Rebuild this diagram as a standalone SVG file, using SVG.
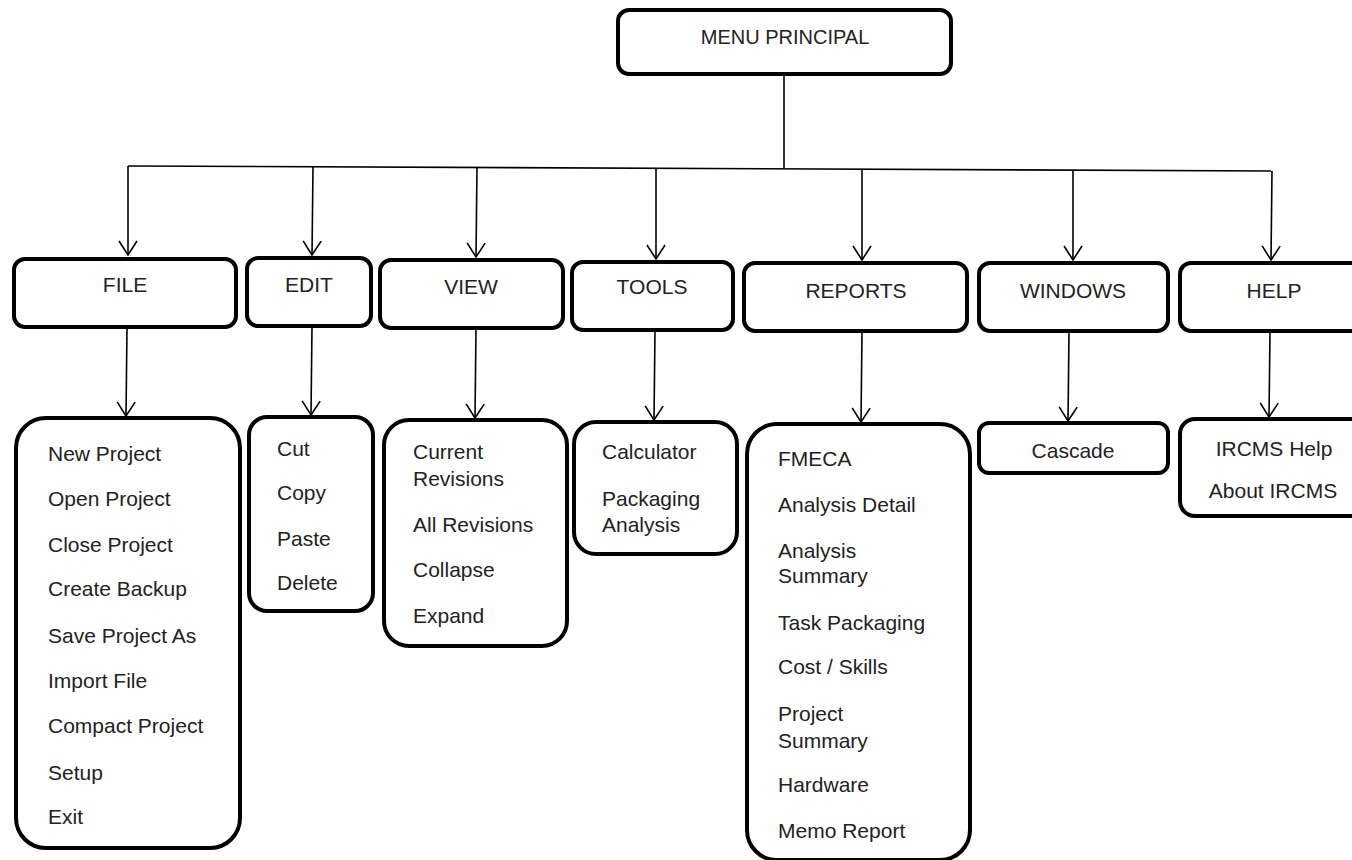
<svg xmlns="http://www.w3.org/2000/svg" width="1352" height="860" viewBox="0 0 1352 860">
<style>
.box{fill:#fff;stroke:#000;stroke-width:4}
.t{font-family:"Liberation Sans",Arial,sans-serif;font-size:21px;fill:#222}
.c{text-anchor:middle}
.h{font-size:20px}
.ln{stroke:#000;stroke-width:1.6;fill:none}
</style>
<defs>
<marker id="ah" markerUnits="userSpaceOnUse" viewBox="0 0 16 20" refX="15" refY="10" markerWidth="16" markerHeight="20" orient="auto" overflow="visible">
<path d="M1,1 L15,10 L1,19" fill="none" stroke="#000" stroke-width="1.6"/>
</marker>
</defs>
<rect width="1352" height="860" fill="#fff"/>
<g id="connectors">
<path class="ln" d="M784,75 L784,168"/>
<path class="ln" d="M128,166 L1272,171"/>
<path class="ln" d="M128,166 L128,255" marker-end="url(#ah)"/>
<path class="ln" d="M313,167 L312,255" marker-end="url(#ah)"/>
<path class="ln" d="M477,167 L476,257" marker-end="url(#ah)"/>
<path class="ln" d="M656,168 L656,259" marker-end="url(#ah)"/>
<path class="ln" d="M862,169 L862,260" marker-end="url(#ah)"/>
<path class="ln" d="M1073,170 L1073,260" marker-end="url(#ah)"/>
<path class="ln" d="M1272,171 L1271,260" marker-end="url(#ah)"/>
<path class="ln" d="M127,328 L126,416" marker-end="url(#ah)"/>
<path class="ln" d="M312,327 L311,415" marker-end="url(#ah)"/>
<path class="ln" d="M476,329 L475,418" marker-end="url(#ah)"/>
<path class="ln" d="M655,331 L654,420" marker-end="url(#ah)"/>
<path class="ln" d="M862,332 L861,422" marker-end="url(#ah)"/>
<path class="ln" d="M1069,332 L1068,421" marker-end="url(#ah)"/>
<path class="ln" d="M1270,332 L1269,417" marker-end="url(#ah)"/>
</g>
<g id="menu-principal">
<rect class="box" x="618" y="10" width="333" height="64" rx="11"/>
<text class="t c h" x="785" y="44">MENU PRINCIPAL</text>
</g>
<g id="file">
<rect class="box" x="14" y="259" width="222" height="68" rx="11"/>
<text class="t c" x="125" y="292">FILE</text>
</g>
<g id="edit">
<rect class="box" x="247" y="258" width="124" height="68" rx="11"/>
<text class="t c" x="309" y="292">EDIT</text>
</g>
<g id="view">
<rect class="box" x="380" y="260" width="183" height="68" rx="11"/>
<text class="t c" x="471" y="294">VIEW</text>
</g>
<g id="tools">
<rect class="box" x="572" y="262" width="161" height="68" rx="11"/>
<text class="t c" x="652" y="294">TOOLS</text>
</g>
<g id="reports">
<rect class="box" x="744" y="263" width="223" height="68" rx="11"/>
<text class="t c" x="856" y="298">REPORTS</text>
</g>
<g id="windows">
<rect class="box" x="979" y="263" width="189" height="68" rx="11"/>
<text class="t c" x="1073" y="298">WINDOWS</text>
</g>
<g id="help">
<rect class="box" x="1180" y="263" width="190" height="68" rx="11"/>
<text class="t c" x="1274" y="298">HELP</text>
</g>
<g id="file-items">
<rect class="box" x="16" y="418" width="224" height="430" rx="30"/>
<text class="t" x="48" y="461">New Project</text>
<text class="t" x="48" y="506">Open Project</text>
<text class="t" x="48" y="552">Close Project</text>
<text class="t" x="48" y="596">Create Backup</text>
<text class="t" x="48" y="643">Save Project As</text>
<text class="t" x="48" y="688">Import File</text>
<text class="t" x="48" y="733">Compact Project</text>
<text class="t" x="48" y="780">Setup</text>
<text class="t" x="48" y="824">Exit</text>
</g>
<g id="edit-items">
<rect class="box" x="249" y="417" width="124" height="194" rx="18"/>
<text class="t" x="277" y="456">Cut</text>
<text class="t" x="277" y="500">Copy</text>
<text class="t" x="277" y="546">Paste</text>
<text class="t" x="277" y="590">Delete</text>
</g>
<g id="view-items">
<rect class="box" x="384" y="420" width="183" height="226" rx="25"/>
<text class="t" x="413" y="459">Current</text>
<text class="t" x="413" y="486">Revisions</text>
<text class="t" x="413" y="532">All Revisions</text>
<text class="t" x="413" y="577">Collapse</text>
<text class="t" x="413" y="623">Expand</text>
</g>
<g id="tools-items">
<rect class="box" x="574" y="422" width="163" height="132" rx="22"/>
<text class="t" x="602" y="459">Calculator</text>
<text class="t" x="602" y="506">Packaging</text>
<text class="t" x="602" y="532">Analysis</text>
</g>
<g id="reports-items">
<rect class="box" x="747" y="424" width="223" height="436" rx="30"/>
<text class="t" x="778" y="466">FMECA</text>
<text class="t" x="778" y="512">Analysis Detail</text>
<text class="t" x="778" y="558">Analysis</text>
<text class="t" x="778" y="583">Summary</text>
<text class="t" x="778" y="630">Task Packaging</text>
<text class="t" x="778" y="674">Cost / Skills</text>
<text class="t" x="778" y="721">Project</text>
<text class="t" x="778" y="748">Summary</text>
<text class="t" x="778" y="792">Hardware</text>
<text class="t" x="778" y="838">Memo Report</text>
</g>
<g id="windows-items">
<rect class="box" x="979" y="423" width="189" height="50" rx="10"/>
<text class="t c" x="1073" y="458">Cascade</text>
</g>
<g id="help-items">
<rect class="box" x="1180" y="419" width="190" height="97" rx="15"/>
<text class="t c" x="1274" y="456">IRCMS Help</text>
<text class="t c" x="1273" y="498">About IRCMS</text>
</g>
</svg>
